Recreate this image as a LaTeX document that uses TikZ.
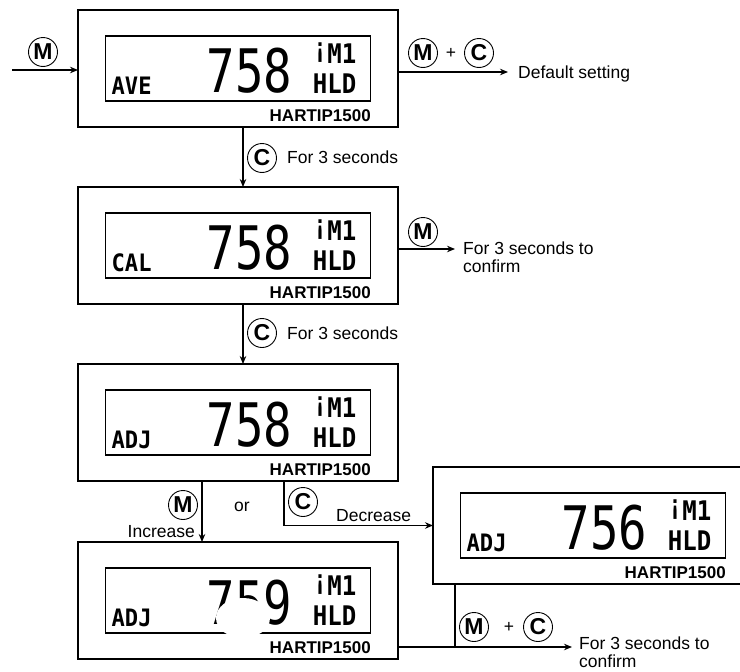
\documentclass[tikz,border=0pt]{standalone}
\usepackage{fontspec}
\usepackage{graphicx}
\setmainfont{Liberation Sans}
\newfontfamily\lcdfont{DejaVu Sans Mono}
\usetikzlibrary{arrows.meta}
\tikzset{
 unitbox/.style={draw, line width=1.4pt, minimum width=320pt, minimum height=117pt, inner sep=0pt, outer sep=0pt},
 lcdbox/.style={draw, line width=1.2pt, minimum width=265pt, minimum height=65pt, inner sep=0pt, outer sep=0pt},
 modetxt/.style={inner sep=0pt, font=\lcdfont\bfseries\fontsize{24}{24}\selectfont},
 digittxt/.style={inner sep=0pt, font=\lcdfont\fontsize{60}{60}\selectfont},
 flagtxt/.style={inner sep=0pt, font=\lcdfont\bfseries\fontsize{27}{27}\selectfont},
 brand/.style={inner sep=0pt, font=\bfseries\fontsize{17}{17}\selectfont},
 lbl/.style={inner sep=0pt, font=\fontsize{17.5}{17.5}\selectfont},
 btn/.style={draw, circle, line width=0.9pt, minimum size=29pt, inner sep=0pt, font=\bfseries\fontsize{23}{23}\selectfont},
 conn/.style={line width=1.3pt},
 arr/.style={conn, -{Stealth[length=8pt,width=6.5pt]}},
}
\newcommand{\drawunit}[5]{%
 \node[unitbox, anchor=north west] (#1) at (#2,#3) {};
 \node[lcdbox, anchor=north west] (#1d) at ([shift={(27.5,26)}]#1.north west) {};
 \node[modetxt, anchor=base west] (#1m) at ([shift={(6,58)}]#1d.north west) {\scalebox{0.92}[1]{#4}};
 \node[digittxt, anchor=base east] (#1n) at ([shift={(187,56)}]#1d.north west) {\scalebox{0.79}[1]{#5}};
 \node[flagtxt, anchor=base east] (#1f) at ([shift={(251,27)}]#1d.north west) {\scalebox{0.89}[1]{\raisebox{0.2em}{¡}M1}};
 \node[flagtxt, anchor=base east] (#1h) at ([shift={(251,57)}]#1d.north west) {\scalebox{0.89}[1]{HLD}};
 \node[brand, anchor=base east] (#1b) at ([shift={(-27,111)}]#1.north east) {HARTIP1500};
}
\begin{document}
\begin{tikzpicture}[x=1pt,y=-1pt]
\useasboundingbox (0,0) rectangle (740,672);
\clip (0,0) rectangle (740,672);
\fill[white] (0,0) rectangle (740,672);

\drawunit{b1}{78}{10}{AVE}{758}
\drawunit{b2}{78}{187}{CAL}{758}
\drawunit{b3}{78}{364}{ADJ}{758}
\drawunit{b4}{78}{542}{ADJ}{759}
\drawunit{b5}{433}{467}{ADJ}{756}

% white blot over the bottom display
\fill[white] (243,618) ellipse [x radius=27, y radius=20];

% entry
\coordinate (in) at (12,70);
\draw[arr] (in) -- (b1.west |- in);
\node[btn] (kin) at (43,52) {M};

% default setting
\node[lbl, anchor=base west] (t1) at (518,78) {Default setting};
\coordinate (e1) at (508,72);
\draw[arr] (b1.east |- e1) -- (e1);
\node[btn] (k1m) at (423,53) {M};
\node[lbl] (p1) at (451,53) {+};
\node[btn] (k1c) at (479,53) {C};

% b1 -> b2
\draw[arr] ([xshift=5pt]b1.south) -- ([xshift=5pt]b2.north);
\node[btn] (k2) at (262,158) {C};
\node[lbl, anchor=base west] (t2) at (287,163) {For 3 seconds};

% b2 confirm
\coordinate (e2) at (455,249);
\draw[arr] (b2.east |- e2) -- (e2);
\node[btn] (k3) at (423,232) {M};
\node[lbl, anchor=north west, align=left] (t3) at (463,242) {For 3 seconds to\\confirm};

% b2 -> b3
\draw[arr] ([xshift=5pt]b2.south) -- ([xshift=5pt]b3.north);
\node[btn] (k4) at (262,333) {C};
\node[lbl, anchor=base west] (t4) at (287,339) {For 3 seconds};

% b3 -> b4 increase
\draw[arr] ([xshift=-36pt]b3.south) -- ([xshift=-36pt]b4.north);
\node[btn] (k5) at (183,505) {M};
\node[lbl, anchor=base east] (t5) at (195,537) {Increase};
\node[lbl, anchor=base] (or) at (242,511) {or};

% b3 -> b5 decrease
\draw[arr] ([xshift=46pt]b3.south) |- (b5.west);
\node[btn] (k6) at (303,502) {C};
\node[lbl, anchor=base west] (t6) at (336,521) {Decrease};

% final confirm
\coordinate (jn) at (455,647);
\coordinate (e7) at (572,647);
\draw[conn] (b5.south -| jn) -- (jn);
\draw[arr] (b4.east |- jn) -- (e7);
\node[btn] (k7m) at (474,627) {M};
\node[lbl] (p7) at (509,627) {+};
\node[btn] (k7c) at (538,627) {C};
\node[lbl, anchor=north west, align=left] (t7) at (579,637) {For 3 seconds to\\confirm};
\end{tikzpicture}
\end{document}
